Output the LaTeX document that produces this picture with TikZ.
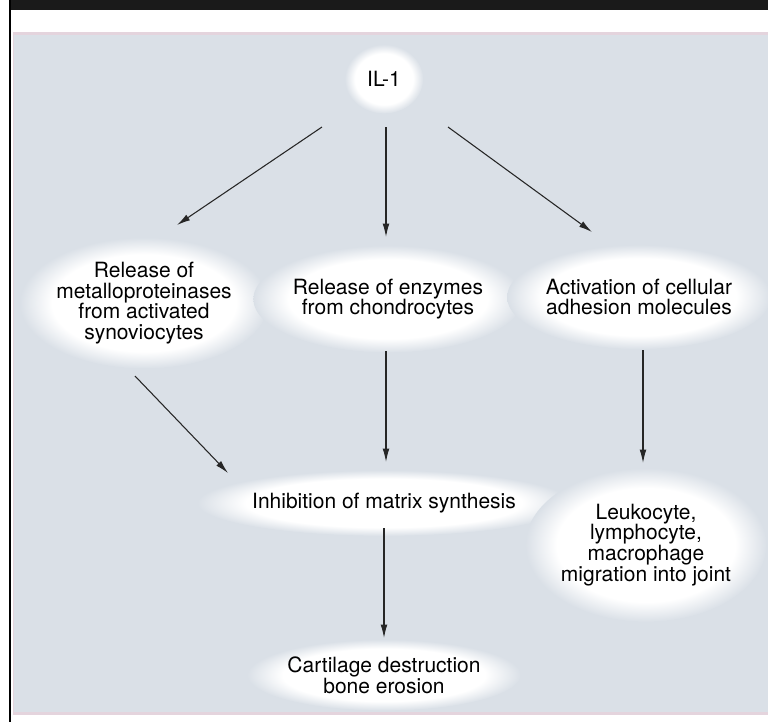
\documentclass[tikz,border=0pt]{standalone}
\usepackage{fontspec}
\setmainfont{TeX Gyre Heros}
\usetikzlibrary{shapes.geometric, arrows.meta, calc, backgrounds}
\definecolor{panel}{HTML}{DAE0E7}
\definecolor{panelrim}{HTML}{E4D4DD}
\definecolor{barblack}{HTML}{1A1A1A}
\pgfdeclareradialshading{glow}{\pgfpoint{0bp}{0bp}}{color(0bp)=(white); color(18.5bp)=(white); color(25bp)=(panel); color(50bp)=(panel)}

\begin{document}
\begin{tikzpicture}[x=0.75pt, y=-0.75pt,
    blob/.style={ellipse, inner sep=0pt, align=center,
        font=\fontsize{15.75}{15.6}\selectfont},
    flow/.style={-{Latex[length=10pt, width=5pt]}, line width=0.8pt, black!85}]
    \useasboundingbox (0,0) rectangle (768,722);
    \begin{scope}[on background layer]
        \fill[white] (0,0) rectangle (768,722);
        \fill[panelrim] (13,32) rectangle (768,715);
        \fill[panel] (14,35) rectangle (768,712);
        \fill[barblack] (9,0) rectangle (768,10);
        \fill[black] (9,0) rectangle (11,722);
    \end{scope}

    \node[blob, minimum width=58.5pt, minimum height=51.5pt] (il) at (384,79) {IL-1};
    \node[blob, minimum width=181pt, minimum height=98pt] (rel1) at (144,303) {Release of\\metalloproteinases\\from activated\\synoviocytes};
    \node[blob, minimum width=176pt, minimum height=80pt] (rel2) at (388,299) {Release of enzymes\\from chondrocytes};
    \node[blob, minimum width=185pt, minimum height=78pt] (rel3) at (639,297) {Activation of cellular\\adhesion molecules};
    \node[blob, minimum width=261pt, minimum height=49pt] (inhib) at (384,503) {Inhibition of matrix synthesis};
    \node[blob, minimum width=174pt, minimum height=115pt] (leuko) at (646,545) {Leukocyte,\\lymphocyte,\\macrophage\\migration into joint};
    \node[blob, minimum width=201pt, minimum height=53pt] (cart) at (384,675) {Cartilage destruction\\bone erosion};

    % soft white halo behind every label
    \begin{scope}[on background layer]
        \foreach \nd in {il,rel1,rel2,rel3,inhib,leuko,cart}
            \shade[shading=glow] let \p1=($(\nd.east)-(\nd.center)$), \p2=($(\nd.north)-(\nd.center)$)
                in (\nd.center) ellipse [x radius=\x1, y radius=\y2];
    \end{scope}

    % IL-1 fans out
    \draw[flow] ($(il)+(-62,48)$) -- ($(rel1)+(33,-78)$);
    \draw[flow] ($(il)+(2,48)$) -- ($(rel2)+(-2,-62)$);
    \draw[flow] ($(il)+(64,48)$) -- ($(rel3)+(-47,-65)$);

    \draw[flow] ($(rel1)+(-9,73)$) -- ($(inhib)+(-156,-30)$);
    \draw[flow] ($(rel2)+(-2,52)$) -- ($(inhib)+(2,-41)$);
    \draw[flow] ($(rel3)+(4,53)$) -- ($(leuko)+(-3,-82)$);
    \draw[flow] ($(inhib)+(0,25)$) -- ($(cart)+(0,-37)$);
\end{tikzpicture}
\end{document}
